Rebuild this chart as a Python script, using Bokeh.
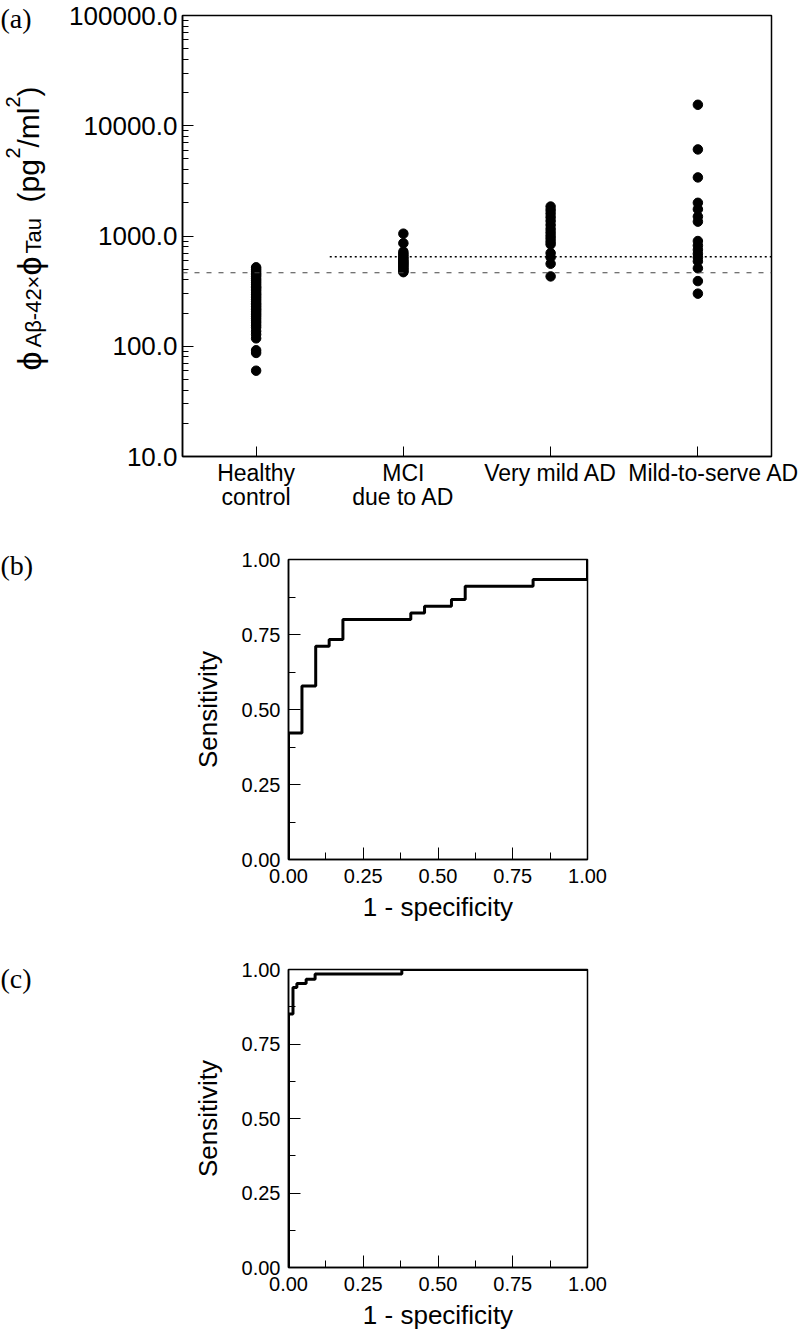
from bokeh.plotting import figure
from bokeh.models import FixedTicker, PrintfTickFormatter, Span, Range1d, ColumnDataSource
from bokeh.layouts import column, row
from bokeh.embed import file_html
from bokeh.resources import INLINE
from bokeh.core.properties import value

# ---------------- data ----------------
categories = ["Healthy control", "MCI due to AD", "Very mild AD", "Mild-to-serve AD"]
category_tick_labels = ["Healthy\ncontrol", "MCI\ndue to AD", "Very mild AD",
                        "\u00a0" * 5 + "Mild-to-serve AD"]

healthy_control = [520, 500, 480, 460, 445, 430, 410, 395, 380, 365, 350, 340, 330, 318,
                   305, 295, 285, 275, 265, 255, 245, 238, 230, 222, 215, 208, 200, 193,
                   186, 178, 170, 163, 155, 148, 137, 128, 118, 92, 87, 60]
mci_due_to_ad = [1050, 860, 720, 690, 665, 640, 620, 600, 585, 570, 555, 540, 525, 510,
                 495, 480, 470]
very_mild_ad = [1850, 1720, 1600, 1480, 1370, 1260, 1160, 1080, 1010, 950, 890, 840,
                700, 640, 560, 430]
mild_to_severe_ad = [15500, 6100, 3400, 2000, 1750, 1500, 1350, 900, 820, 750, 690, 640,
                     590, 510, 390, 300]
group_values = [healthy_control, mci_due_to_ad, very_mild_ad, mild_to_severe_ad]

cutoff_dashed = 464   # cutoff line drawn across all groups
cutoff_dotted = 647   # cutoff line drawn from MCI onward

y_ticks_a = [10, 100, 1000, 10000, 100000]

# ROC (b): (1 - specificity, sensitivity)
fpr_b = [0.0, 0.0, 0.045, 0.091, 0.136, 0.182, 0.409, 0.455, 0.545, 0.591, 0.818, 1.0]
tpr_b = [0.0, 0.422, 0.578, 0.711, 0.733, 0.800, 0.822, 0.844, 0.867, 0.911, 0.933, 1.0]
# ROC (c)
fpr_c = [0.0, 0.0, 0.015, 0.028, 0.059, 0.089, 0.379, 1.0]
tpr_c = [0.0, 0.851, 0.940, 0.953, 0.967, 0.985, 1.0, 1.0]

roc_ticks = [0.0, 0.25, 0.5, 0.75, 1.0]
roc_minor = [0.125, 0.375, 0.625, 0.875]

SANS = "Liberation Sans"
SERIF = "Liberation Serif"


def label_fig(width, height):
    f = figure(width=width, height=height, x_range=Range1d(0, width),
               y_range=Range1d(0, height), x_axis_type=None, y_axis_type=None,
               title=None, output_backend="svg", toolbar_location=None,
               min_border=0, outline_line_color=None)
    f.xgrid.visible = False
    f.ygrid.visible = False
    return f


# ---------------- panel (a) ----------------
H_A = 530
LAB_W = 60
n_cat = len(categories)
pa = figure(width=740, height=H_A, x_range=Range1d(0.5, n_cat + 0.5),
            y_range=Range1d(10, 100000), y_axis_type="log",
            output_backend="svg", toolbar_location=None,
            min_border_left=122, min_border_right=29, min_border_top=15,
            min_border_bottom=74)
pa.xgrid.visible = False
pa.ygrid.visible = False
pa.outline_line_color = "black"
pa.outline_line_width = 1.5

xs, ys = [], []
for i, vals in enumerate(group_values):
    xs += [i + 1] * len(vals)
    ys += vals
pa.scatter(xs, ys, size=9.5, color="black")

pa.add_layout(Span(location=cutoff_dashed, dimension="width", line_color="#444444",
                   line_width=1.2, line_dash="5 7"))
pa.segment(x0=[1.5], y0=[cutoff_dotted], x1=[n_cat + 0.5], y1=[cutoff_dotted],
           line_color="black", line_width=1.5, line_dash="2 3")

ya = pa.yaxis[0]
ya.ticker = FixedTicker(ticks=y_ticks_a,
                        minor_ticks=[m * 10 ** e for e in range(1, 5) for m in range(2, 10)])
ya.formatter = PrintfTickFormatter(format="%.1f")
xa = pa.xaxis[0]
xa.ticker = FixedTicker(ticks=list(range(1, n_cat + 1)), minor_ticks=[])
xa.major_label_overrides = {i + 1: lab for i, lab in enumerate(category_tick_labels)}
for ax in (ya, xa):
    ax.axis_line_color = "black"
    ax.axis_line_width = 1.5
    ax.major_tick_line_color = "black"
    ax.minor_tick_line_color = "black"
    ax.major_tick_out = 0
    ax.minor_tick_out = 0
    ax.major_label_text_color = "black"
    ax.major_label_text_font = SANS
ya.major_tick_in = 11
ya.minor_tick_in = 6
ya.major_label_text_font_size = "26px"
ya.major_label_standoff = 5
xa.major_tick_in = 10
xa.major_label_text_font_size = "23px"
xa.major_label_text_line_height = 0.95
xa.major_label_standoff = 3

# left strip for panel (a): letter + composite y title
la = label_fig(LAB_W, H_A)
# (text, font px, baseline x, start y measured from the top)
pieces = [
    ("ϕ", 34, 28, 370),
    ("Aβ-42×", 22, 33, 347),
    ("ϕ", 34, 28, 275),
    ("Tau", 22, 33, 253),
    ("(pg", 30, 28, 202),
    ("2", 20, 12, 158),
    ("/ml", 30, 28, 147),
    ("2", 20, 12, 107),
    (")", 30, 28, 96),
]
src = ColumnDataSource(dict(
    x=[p[2] for p in pieces],
    y=[H_A - p[3] for p in pieces],
    text=[p[0] for p in pieces],
    size=[f"{p[1]}px" for p in pieces],
))
la.text(x="x", y="y", text="text", source=src, angle=90, angle_units="deg",
        text_font=value(SANS), text_font_size="size", text_color="black",
        text_align="left", text_baseline="alphabetic")
la.text(x=[0], y=[H_A - 2], text=["(a)"], text_font=value(SERIF),
        text_font_size=value("28px"), text_color="black", text_align="left",
        text_baseline="top")


# ---------------- ROC panels ----------------
def roc_panel(fpr, tpr, top, bottom, height):
    p = figure(width=560, height=height, x_range=Range1d(0, 1), y_range=Range1d(0, 1),
               output_backend="svg", toolbar_location=None,
               min_border_left=228, min_border_right=33, min_border_top=top,
               min_border_bottom=bottom)
    p.xgrid.visible = False
    p.ygrid.visible = False
    p.outline_line_color = "black"
    p.outline_line_width = 1.5
    p.step(fpr, tpr, mode="after", line_color="black", line_width=3)
    for ax in (p.xaxis[0], p.yaxis[0]):
        ax.ticker = FixedTicker(ticks=roc_ticks, minor_ticks=roc_minor)
        ax.formatter = PrintfTickFormatter(format="%.2f")
        ax.axis_line_color = "black"
        ax.axis_line_width = 1.5
        ax.major_tick_line_color = "black"
        ax.minor_tick_line_color = "black"
        ax.major_tick_out = 0
        ax.minor_tick_out = 0
        ax.major_tick_in = 12
        ax.minor_tick_in = 7
        ax.major_label_text_color = "black"
        ax.major_label_text_font = SANS
        ax.major_label_text_font_size = "20px"
        ax.axis_label_text_font = SANS
        ax.axis_label_text_font_size = "26px"
        ax.axis_label_text_font_style = "normal"
        ax.axis_label_text_color = "black"
    p.yaxis[0].axis_label = "Sensitivity"
    p.yaxis[0].major_label_standoff = 8
    p.yaxis[0].axis_label_standoff = 16
    p.xaxis[0].axis_label = "1 - specificity"
    p.xaxis[0].major_label_standoff = 9
    p.xaxis[0].axis_label_standoff = 6
    return p


H_B = 415
pb = roc_panel(fpr_b, tpr_b, 29, 86, H_B)
lb = label_fig(LAB_W, H_B)
lb.text(x=[0], y=[H_B - 19], text=["(b)"], text_font=value(SERIF),
        text_font_size=value("28px"), text_color="black", text_align="left",
        text_baseline="top")

H_C = 389
pc = roc_panel(fpr_c, tpr_c, 24, 67, H_C)
lc = label_fig(LAB_W, H_C)
lc.text(x=[0], y=[H_C - 17], text=["(c)"], text_font=value(SERIF),
        text_font_size=value("28px"), text_color="black", text_align="left",
        text_baseline="top")

layout = column(row(column(la), pa), row(column(lb), pb), row(column(lc), pc), spacing=0)
open("out.html", "w").write(file_html(layout, INLINE))
